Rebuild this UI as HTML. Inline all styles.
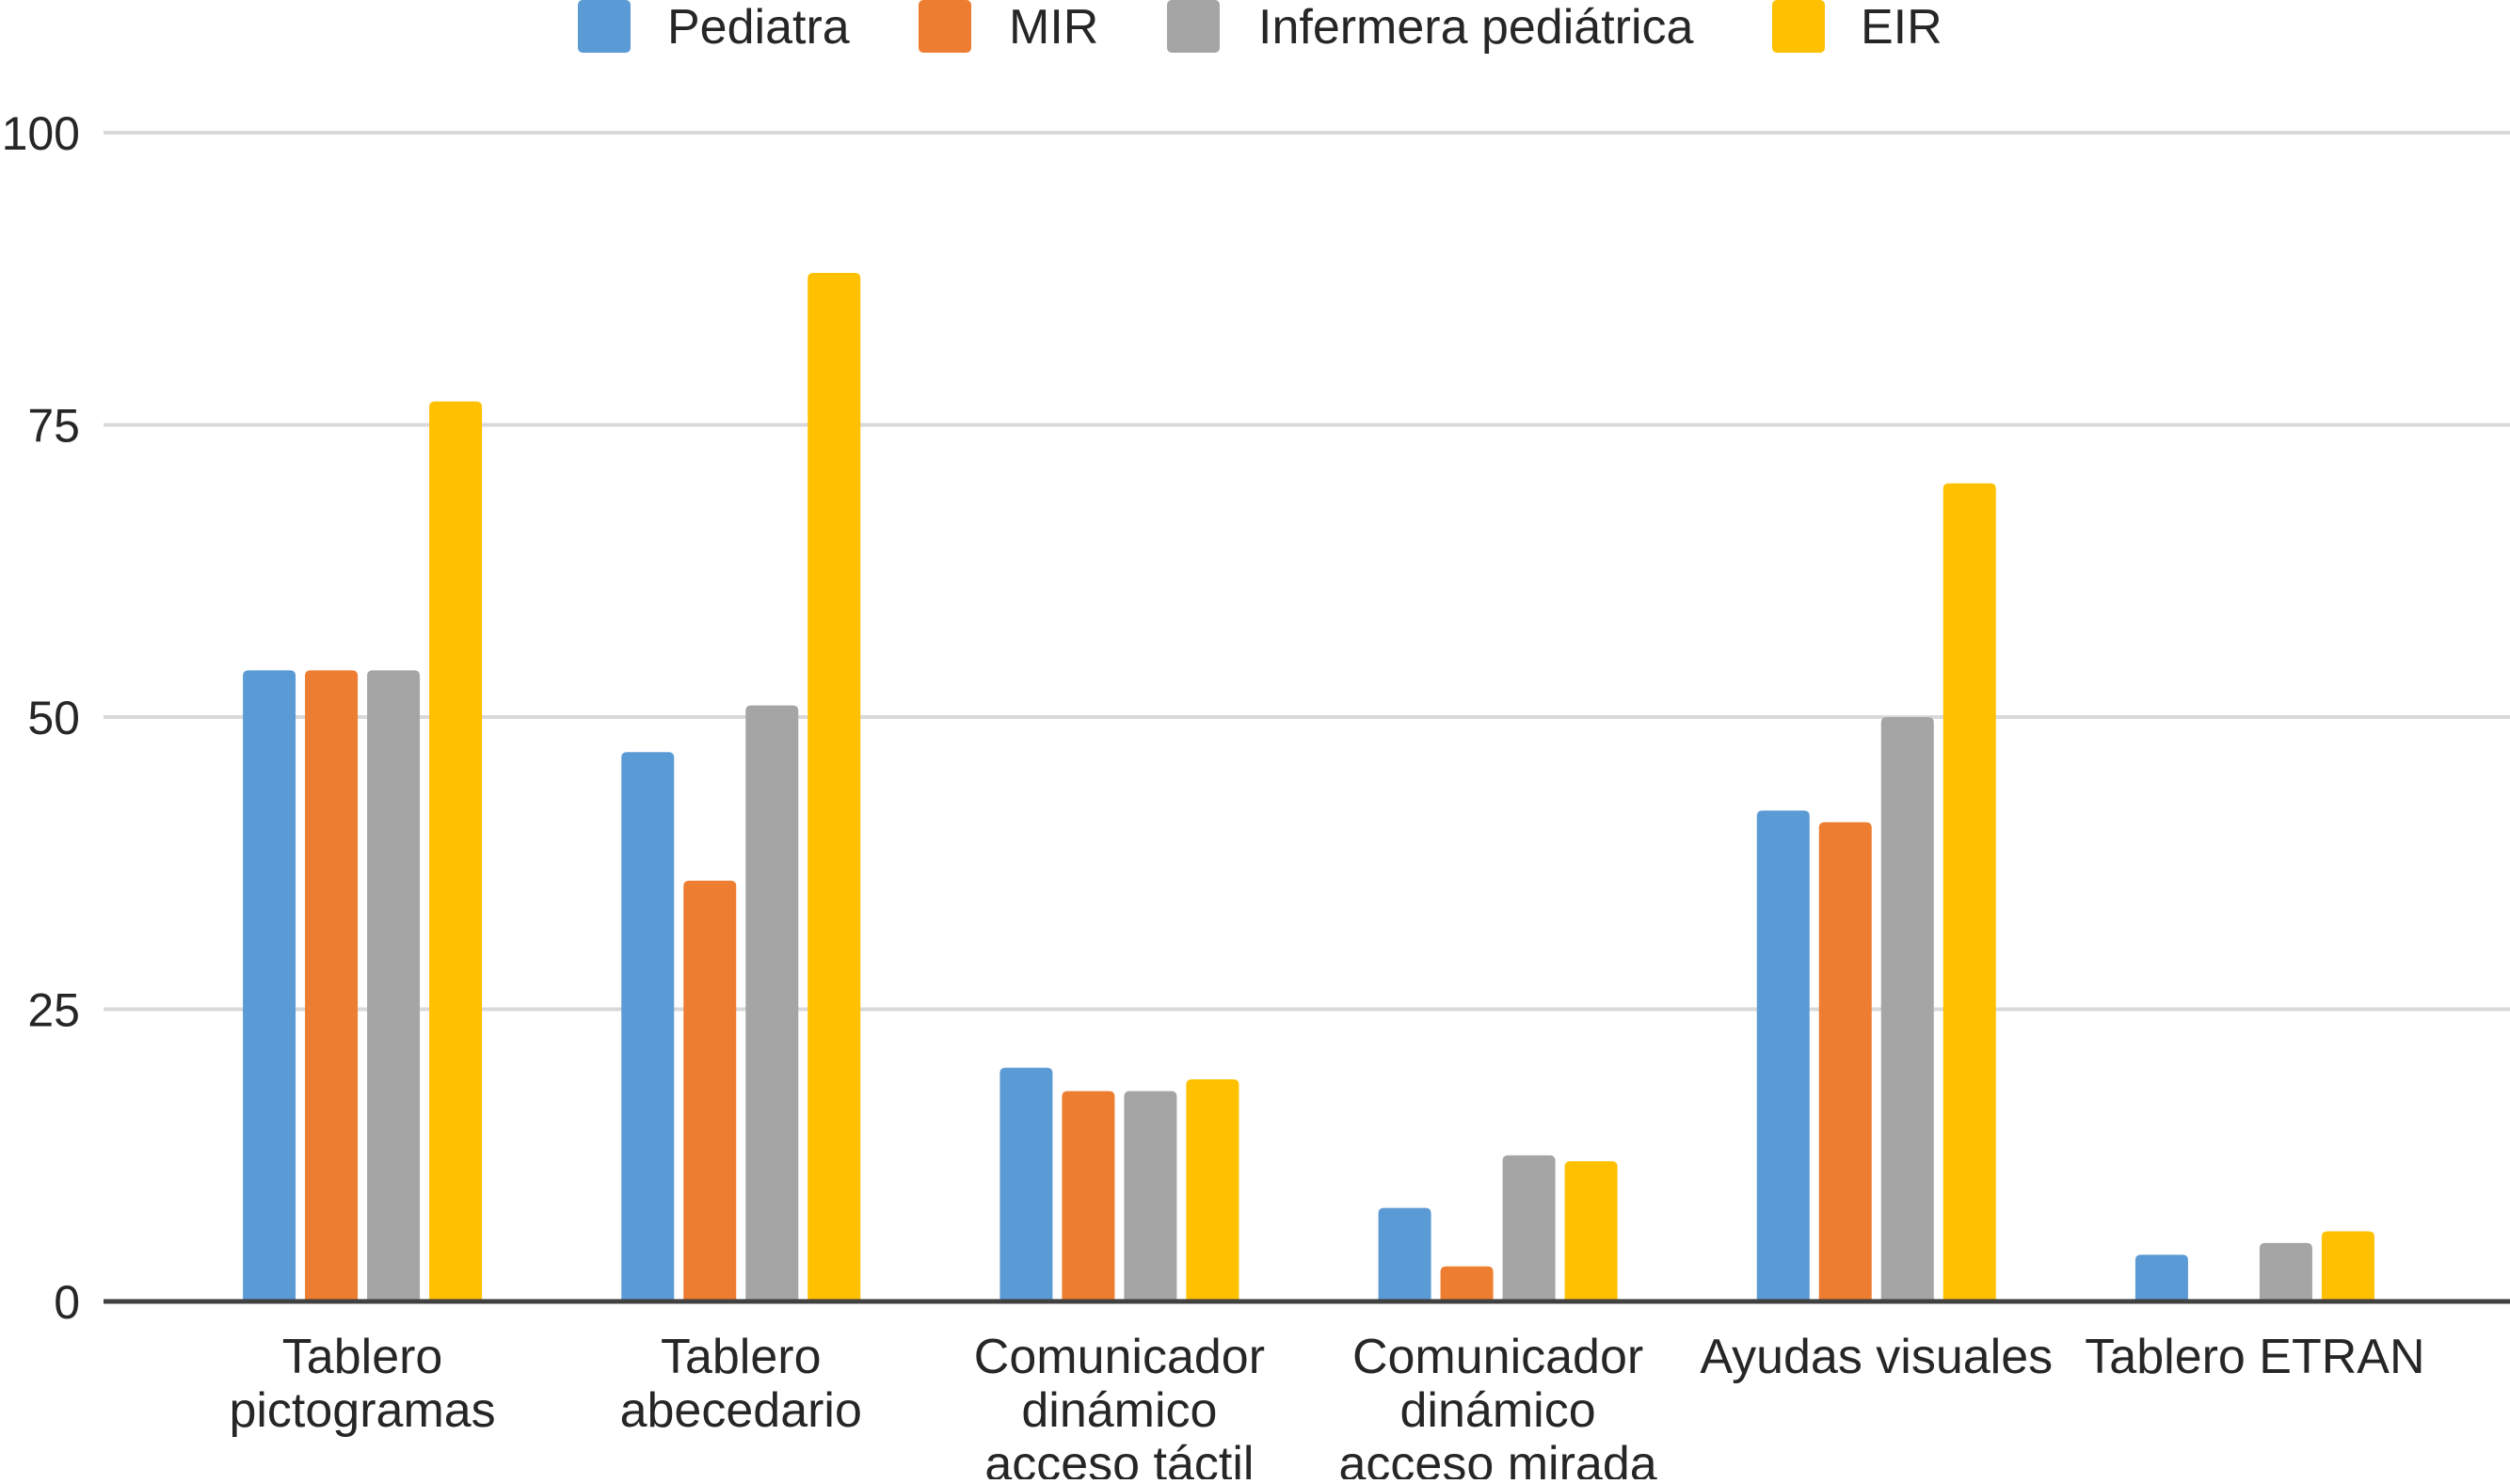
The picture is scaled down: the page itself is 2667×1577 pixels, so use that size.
<!DOCTYPE html>
<html><head><meta charset="utf-8"><style>
html,body{margin:0;padding:0;background:#fff;}
svg text{font-family:"Liberation Sans",sans-serif;fill:#262626;}
</style></head><body>
<svg id="chart" width="2667" height="1572" viewBox="0 0 2667 1572" xmlns="http://www.w3.org/2000/svg">
<g id="grid"></g>
<g id="bars"></g>
<g id="axis"></g>
<g id="legend"></g>
</svg>
<script>
const categories = [["Tablero","pictogramas"],["Tablero","abecedario"],["Comunicador","dinámico","acceso táctil"],["Comunicador","dinámico","acceso mirada"],["Ayudas visuales"],["Tablero ETRAN"]];
const seriesNames = ["Pediatra","MIR","Infermera pediátrica","EIR"];
const pediatra = [54,47,20,8,42,4];
const mir = [54,36,18,3,41,0];
const infermera = [54,51,18,12.5,50,5];
const eir = [77,88,19,12,70,6];
const yTicks = [0,25,50,75,100];

const series = [pediatra,mir,infermera,eir];
const colors = ["#5b9bd5","#ed7d31","#a5a5a5","#ffc000"];
const NS = "http://www.w3.org/2000/svg";
const x0 = 184, x1 = 2597, yZero = 1383, yTop = 141, yMax = 100;
const bw = 56, gap = 10;
function yS(v){ return yZero - (v / yMax) * (yZero - yTop); }
function xC(i){ return x0 + (i + 0.5) * (x1 - x0) / categories.length; }
function mk(tag, attrs, parent){ const e = document.createElementNS(NS, tag); for (const k in attrs) e.setAttribute(k, attrs[k]); parent.appendChild(e); return e; }

const grid = document.getElementById('grid');
const axis = document.getElementById('axis');
yTicks.forEach(t => {
  if (t !== 0) {
    const l = mk('line', {x1:110, x2:2667, y1:yS(t), y2:yS(t), stroke:'#d9d9d9', 'stroke-width':4}, grid);
    
    
  }
  const tx = mk('text', {x:85, y:yS(t) + 18, 'text-anchor':'end', 'font-size':50}, axis);
  tx.textContent = t;
  
  
});
const base = mk('line', {x1:110, x2:2667, y1:yZero, y2:yZero, stroke:'#404040', 'stroke-width':5}, axis);



const bars = document.getElementById('bars');
const groupW = 4 * bw + 3 * gap;
categories.forEach((c, i) => {
  const cx = xC(i);
  series.forEach((s, j) => {
    const v = s[i];
    if (v <= 0) return;
    const x = cx - groupW / 2 + j * (bw + gap);
    const y = yS(v), h = yZero - y, r = Math.min(6, h);
    const p = mk('path', {d:`M${x},${yZero} L${x},${y + r} Q${x},${y} ${x + r},${y} L${x + bw - r},${y} Q${x + bw},${y} ${x + bw},${y + r} L${x + bw},${yZero} Z`, fill:colors[j]}, bars);
    
    
  });
  c.forEach((line, k) => {
    const t = mk('text', {x:cx, y:1459 + k * 57, 'text-anchor':'middle', 'font-size':52}, axis);
    t.textContent = line;
    
    
  });
});

const legend = document.getElementById('legend');
const legPos = [[614,709],[976,1072],[1240,1337],[1883,1977]];
seriesNames.forEach((n, j) => {
  const r = mk('rect', {x:legPos[j][0], y:0, width:56, height:56, rx:5, fill:colors[j]}, legend);
  
  
  const t = mk('text', {x:legPos[j][1], y:46, 'font-size':52}, legend);
  t.textContent = n;
  
  
});
</script>
</body></html>
